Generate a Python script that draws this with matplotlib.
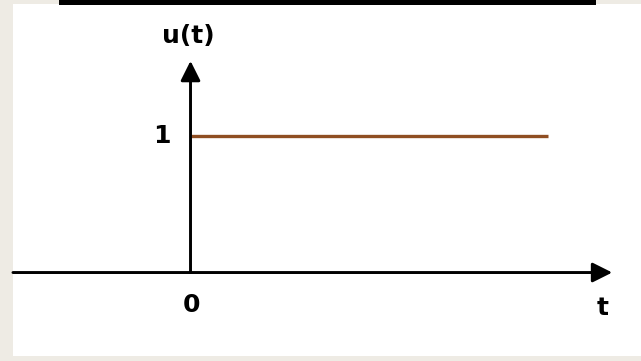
import matplotlib.pyplot as plt
from matplotlib.patches import Rectangle

# unit step u(t): value 1 from t = 0 onwards
t_step = [0, 5]
u_step = [1, 1]

# axis extents (data units)
t_axis = [-2.48, 5.89]
u_axis = [0, 1.55]

tick_labels = {"t0": "0", "u1": "1"}

fig = plt.figure(figsize=(6.41, 3.61), dpi=100)
fig.patch.set_facecolor('#eeebe4')
ax = fig.add_axes([0, 0, 1, 1])
ax.set_xlim(-2.661, 6.292)
ax.set_ylim(-0.648, 1.996)
ax.axis('off')

# white panel and black strip at top
ax.add_patch(Rectangle((13 / 641, 5 / 361), 628 / 641, 352 / 361,
                       transform=ax.transAxes, facecolor='white', edgecolor='none', zorder=0))
ax.add_patch(Rectangle((59 / 641, 356 / 361), 537 / 641, 5 / 361,
                       transform=ax.transAxes, facecolor='black', edgecolor='none', zorder=1))

arrow = dict(arrowstyle='-|>', lw=2.1, color='black', mutation_scale=30, shrinkA=0, shrinkB=0)
ax.annotate('', xy=(t_axis[1], 0), xytext=(t_axis[0], 0), arrowprops=arrow, zorder=3)
ax.annotate('', xy=(0, u_axis[1]), xytext=(0, 0), arrowprops=arrow, zorder=3)

ax.plot(t_step, u_step, color='#8f4e22', lw=2.4, solid_capstyle='butt', zorder=2)

font = dict(fontweight='bold', fontsize=18, color='black', family='DejaVu Sans')
ax.text(-0.03, 1.73, 'u(t)', ha='center', va='center', **font)
ax.text(-0.4, 1.0, tick_labels["u1"], ha='center', va='center', **font)
ax.text(0.02, -0.24, tick_labels["t0"], ha='center', va='center', **font)
ax.text(5.75, -0.26, 't', ha='center', va='center', **font)

fig.savefig('out.png', dpi=100, facecolor=fig.get_facecolor())
